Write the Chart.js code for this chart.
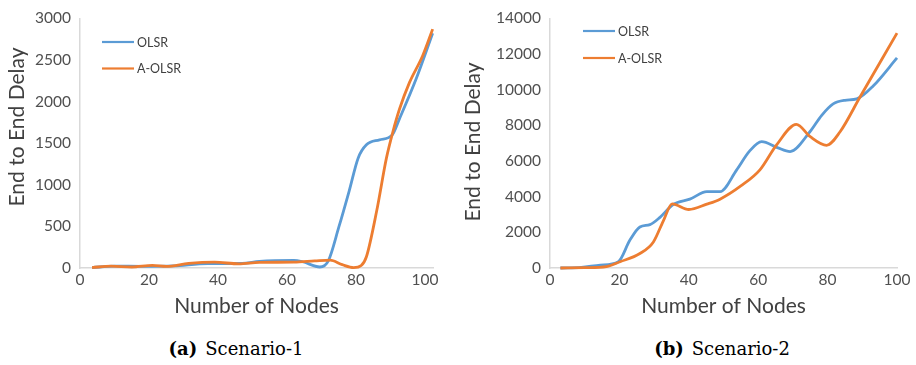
<!DOCTYPE html>
<html>
<head>
<meta charset="utf-8">
<script src="https://cdn.jsdelivr.net/npm/chart.js@4.4.1/dist/chart.umd.min.js"></script>
<style>
  html, body { margin: 0; padding: 0; background: #ffffff; width: 916px; height: 365px; overflow: hidden; }
  .panel { position: absolute; top: 0; width: 458px; height: 325px; }
  #panelA { left: 0; }
  #panelB { left: 458px; }
  .cap { position: absolute; top: 340px; font-family: "DejaVu Serif", "Liberation Serif", serif; font-size: 18px; line-height: 18px; color: #000; white-space: nowrap; transform: translateX(-50%); }
  .cap b { margin-right: 8px; }
</style>
</head>
<body>
<div class="panel" id="panelA"><canvas id="chartA" width="458" height="325"></canvas></div>
<div class="panel" id="panelB"><canvas id="chartB" width="458" height="325"></canvas></div>
<div class="cap" style="left:236px"><b>(a)</b>Scenario-1</div>
<div class="cap" style="left:722px"><b>(b)</b>Scenario-2</div>
<script>
// ---- data ----
const seriesNames = ['OLSR', 'A-OLSR'];
const xTicks = [0, 20, 40, 60, 80, 100];
const yTicksS1 = [0, 500, 1000, 1500, 2000, 2500, 3000];
const yTicksS2 = [0, 2000, 4000, 6000, 8000, 10000, 12000, 14000];

// Scenario-1
const s1OlsrX  = [3.5, 10, 18, 27, 37, 47, 52, 62, 64.5, 69.5, 72, 75, 78, 80.6, 83, 86.8, 90.5, 92.6, 97.4, 102.2];
const s1OlsrY  = [5, 22, 20, 25, 52, 55, 80, 92, 75, 12, 90, 490, 925, 1320, 1480, 1540, 1600, 1795, 2270, 2820];
const s1AolsrX = [3.5, 9, 15, 21, 25, 31.5, 39, 46, 52, 62, 68, 72.5, 76, 79.3, 81.5, 83, 86, 88.8, 90.7, 92.6, 95.5, 99.3, 102.2];
const s1AolsrY = [5, 22, 12, 32, 20, 55, 70, 50, 68, 70, 85, 95, 40, 4, 30, 135, 690, 1320, 1640, 1910, 2230, 2550, 2870];

// Scenario-2
const s2OlsrX  = [3, 9, 14.5, 19.7, 23, 25.9, 28.8, 31.7, 35.5, 40.3, 45.2, 49, 53.8, 57.5, 61, 65.5, 69.2, 74.9, 78.3, 81.6, 85, 88.4, 93.2, 100];
const s2OlsrY  = [0, 40, 160, 350, 1550, 2300, 2430, 2840, 3560, 3860, 4280, 4280, 5500, 6550, 7080, 6750, 6530, 7640, 8560, 9200, 9400, 9480, 10220, 11780];
const s2AolsrX = [3, 10, 16.3, 20.2, 25.9, 29.8, 32.7, 35.2, 40, 45.2, 49, 55, 60.5, 65.3, 71, 75, 79.7, 83.6, 89.3, 100];
const s2AolsrY = [0, 20, 80, 350, 810, 1460, 2660, 3600, 3280, 3580, 3860, 4600, 5500, 6900, 8050, 7360, 6880, 7640, 9570, 13170];

// ---- styling ----
const BLUE = '#5B9BD5';
const ORANGE = '#ED7D31';
const TICK_COLOR = '#505050';
const TITLE_COLOR = '#404040';
const FONT = 'Lato, "Open Sans", "Liberation Sans", sans-serif';

function pts(xs, ys) { return xs.map((x, i) => ({ x: x, y: ys[i] })); }

const insetLegend = {
  id: 'insetLegend',
  afterDraw(chart, args, opts) {
    const ctx = chart.ctx;
    ctx.save();
    chart.data.datasets.forEach((ds, i) => {
      const y = opts.y + i * opts.gap;
      ctx.strokeStyle = ds.borderColor;
      ctx.lineWidth = 2.2;
      ctx.beginPath();
      ctx.moveTo(opts.x, y);
      ctx.lineTo(opts.x + opts.len, y);
      ctx.stroke();
      ctx.fillStyle = TITLE_COLOR;
      ctx.font = '12.5px ' + FONT;
      ctx.textBaseline = 'middle';
      ctx.textAlign = 'left';
      ctx.fillText(ds.label, opts.x + opts.len + 3, y + 0.5);
    });
    ctx.restore();
  }
};

const yAxisTitle = {
  id: 'yAxisTitle',
  afterDraw(chart, args, opts) {
    const ctx = chart.ctx;
    ctx.save();
    ctx.translate(opts.x, opts.y);
    ctx.rotate(-Math.PI / 2);
    ctx.fillStyle = TITLE_COLOR;
    ctx.font = '21px ' + FONT;
    ctx.textAlign = 'center';
    ctx.textBaseline = 'middle';
    ctx.fillText(opts.text, 0, 0);
    ctx.restore();
  }
};

function makeChart(id, olsr, aolsr, yTicks, xMax, yAxisW, padRight, legendPos, titlePos) {
  return new Chart(document.getElementById(id), {
    type: 'line',
    data: {
      datasets: [
        { label: seriesNames[0], data: olsr, borderColor: BLUE, backgroundColor: BLUE, borderWidth: 2.8,
          pointRadius: 0, cubicInterpolationMode: 'monotone', fill: false, clip: false, order: 1 },
        { label: seriesNames[1], data: aolsr, borderColor: ORANGE, backgroundColor: ORANGE, borderWidth: 2.8,
          pointRadius: 0, cubicInterpolationMode: 'monotone', fill: false, clip: false, order: 0 }
      ]
    },
    options: {
      responsive: false,
      animation: false,
      devicePixelRatio: 1,
      layout: { padding: { left: 0, top: 15, right: padRight, bottom: 0 } },
      plugins: {
        legend: { display: false },
        tooltip: { enabled: false },
        insetLegend: legendPos,
        yAxisTitle: titlePos
      },
      scales: {
        x: {
          type: 'linear', min: 0, max: xMax,
          afterBuildTicks: s => { s.ticks = xTicks.map(v => ({ value: v })); },
          afterFit: s => { s.height = 57; },
          grid: { display: false, drawTicks: false },
          border: { display: true, color: '#d9d9d9', width: 1.5 },
          ticks: { color: TICK_COLOR, font: { family: FONT, size: 15.5 }, padding: 3, maxRotation: 0,
                   callback: v => String(v) },
          title: { display: true, text: 'Number of Nodes', color: TITLE_COLOR,
                   font: { family: FONT, size: 21 }, padding: { top: 0, bottom: 6 } }
        },
        y: {
          type: 'linear', min: 0, max: yTicks[yTicks.length - 1],
          afterBuildTicks: s => { s.ticks = yTicks.map(v => ({ value: v })); },
          afterFit: s => { s.width = yAxisW; },
          grid: { display: false, drawTicks: false },
          border: { display: true, color: '#d9d9d9', width: 1.5 },
          ticks: { color: TICK_COLOR, font: { family: FONT, size: 15.5 }, padding: 9,
                   callback: v => String(v) }
        }
      }
    },
    plugins: [insetLegend, yAxisTitle]
  });
}

makeChart('chartA', pts(s1OlsrX, s1OlsrY), pts(s1AolsrX, s1AolsrY), yTicksS1, 102.3, 80, 25,
  { x: 102, y: 42, gap: 26.5, len: 32 },
  { x: 17, y: 127, text: 'End to End Delay' });
makeChart('chartB', pts(s2OlsrX, s2OlsrY), pts(s2AolsrX, s2AolsrY), yTicksS2, 100, 92, 19,
  { x: 125, y: 31, gap: 27, len: 32 },
  { x: 15, y: 142, text: 'End to End Delay' });
</script>
</body>
</html>
